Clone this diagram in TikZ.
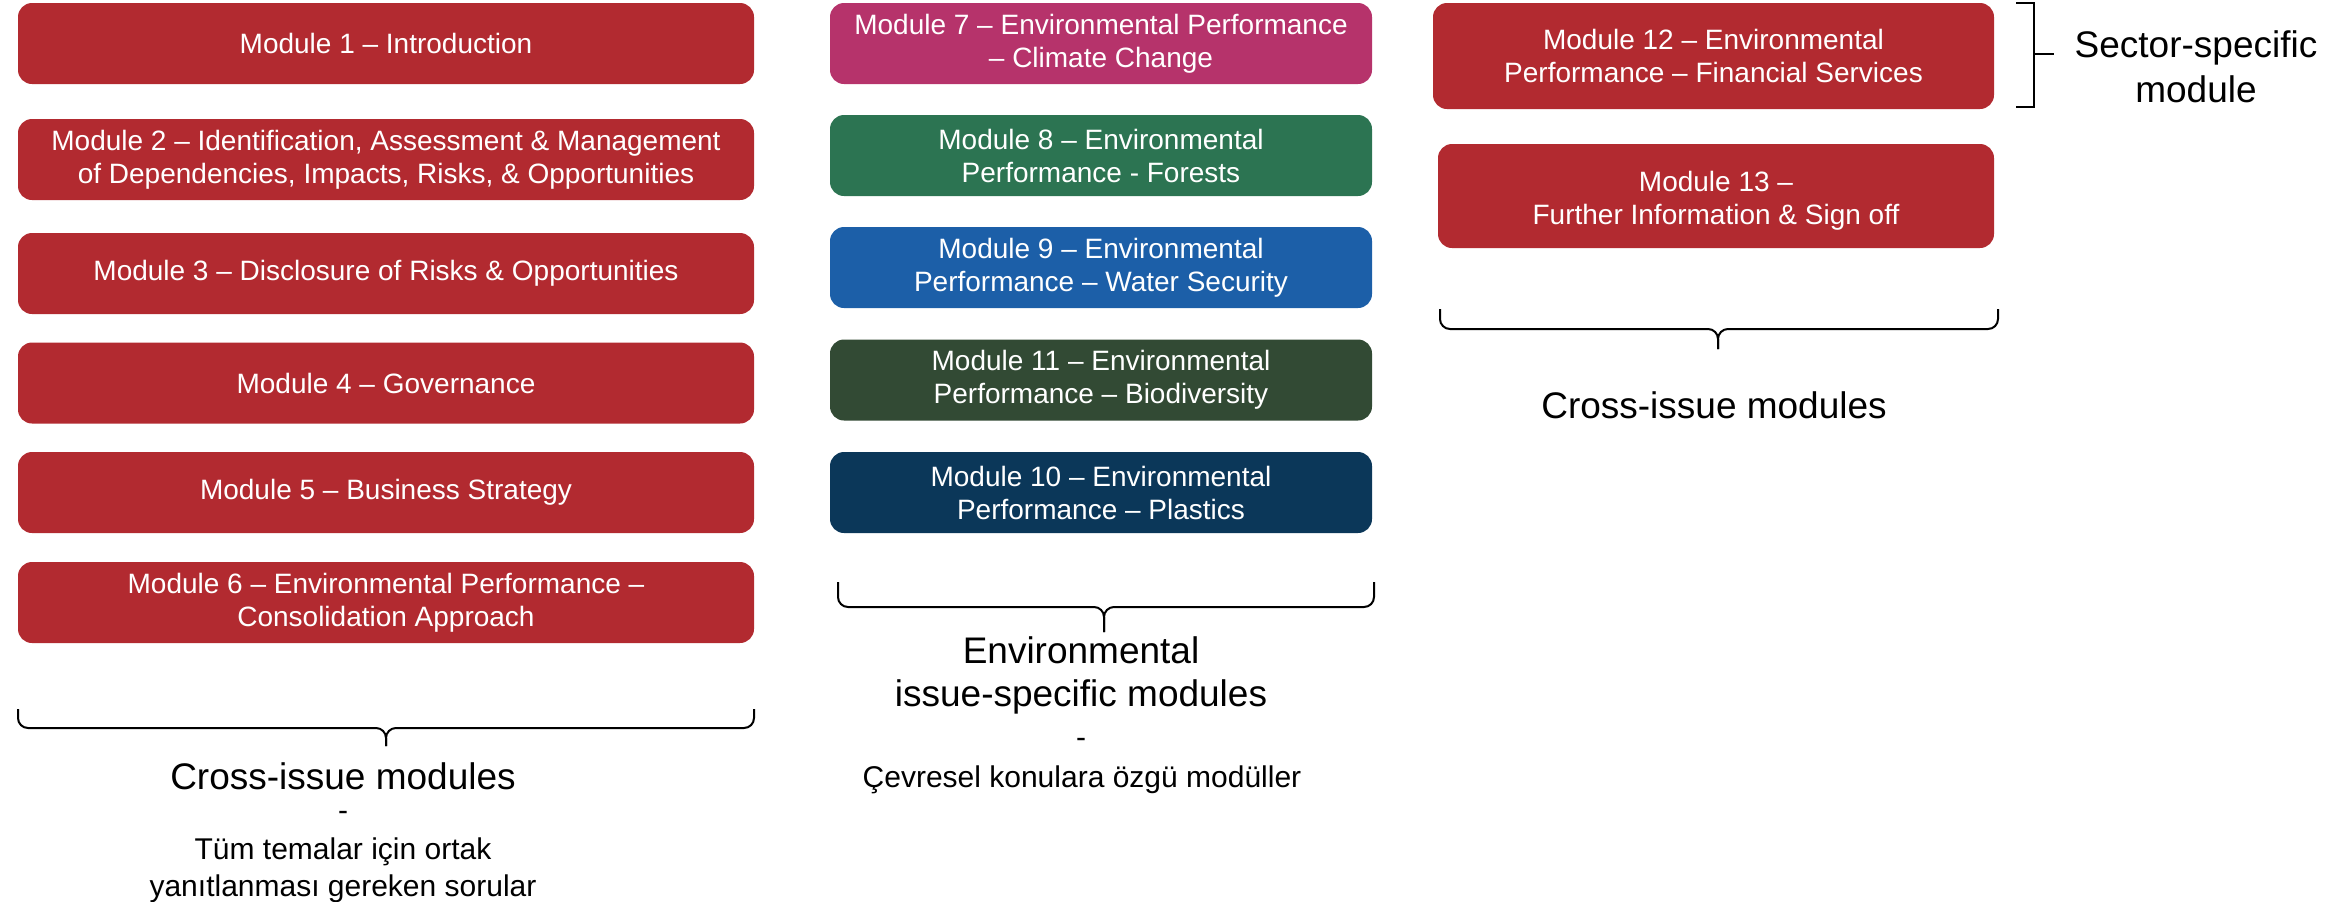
\documentclass[tikz,border=0pt]{standalone}
\usepackage{fontspec}
\setmainfont{Liberation Sans}

\definecolor{modred}{HTML}{B22A30}
\definecolor{modpink}{HTML}{B6336B}
\definecolor{modgreen}{HTML}{2C7452}
\definecolor{modblue}{HTML}{1C5FA8}
\definecolor{moddkgreen}{HTML}{324A34}
\definecolor{modnavy}{HTML}{0B3759}

\tikzset{
  modbox/.style={rounded corners=7pt, fill=#1, text=white, align=center,
    inner sep=0pt, font=\fontsize{14}{16.5}\selectfont},
  leftbox/.style={modbox=modred, minimum width=368pt, minimum height=40.5pt},
  midbox/.style={modbox=#1, minimum width=271pt, minimum height=40.5pt},
  headlabel/.style={align=center, font=\fontsize{18.5}{22.5}\selectfont},
  sublabel/.style={align=center, font=\fontsize{15}{18.5}\selectfont},
  groupbrace/.style={line width=1pt, rounded corners=5pt}
}

\begin{document}
\begin{tikzpicture}[x=0.5pt,y=-0.5pt]
\useasboundingbox (0,0) rectangle (2346,901);
% cross-issue modules
\node[leftbox] (m1) at (386,43.5)  {Module 1 – Introduction};
\node[leftbox] (m2) at (386,159.5) {Module 2 – Identification, Assessment \& Management\\of Dependencies, Impacts, Risks, \& Opportunities};
\node[leftbox] (m3) at (386,273.5) {Module 3 – Disclosure of Risks \& Opportunities};
\node[leftbox] (m4) at (386,383)   {Module 4 – Governance};
\node[leftbox] (m5) at (386,492.5) {Module 5 – Business Strategy};
\node[leftbox] (m6) at (386,602.5) {Module 6 – Environmental Performance –\\Consolidation Approach};
% environmental issue-specific modules
\node[midbox=modpink]    (m7)  at (1101,43.5)  {Module 7 – Environmental Performance\\– Climate Change};
\node[midbox=modgreen]   (m8)  at (1101,155.5) {Module 8 – Environmental\\Performance - Forests};
\node[midbox=modblue]    (m9)  at (1101,267.5) {Module 9 – Environmental\\Performance – Water Security};
\node[midbox=moddkgreen] (m11) at (1101,380)   {Module 11 – Environmental\\Performance – Biodiversity};
\node[midbox=modnavy]    (m10) at (1101,492.5) {Module 10 – Environmental\\Performance – Plastics};
% sector-specific and closing modules
\node[modbox=modred, minimum width=280.5pt, minimum height=53pt] (m12) at (1713.5,56)
  {Module 12 – Environmental\\Performance – Financial Services};
\node[modbox=modred, minimum width=278pt, minimum height=52pt] (m13) at (1716,196)
  {\rule{0pt}{15pt}Module 13 –\\Further Information \& Sign off};

% braces
\coordinate (lbA) at (18,709);
\coordinate (lbB) at (754,709);
\coordinate (lbM) at (386,728);
\coordinate (lbT) at (386,746);
\draw[groupbrace] (lbA) |- (lbM) -- (lbT);
\draw[groupbrace] (lbB) |- (lbM) -- (lbT);

\coordinate (mbA) at (838,582);
\coordinate (mbB) at (1374,582);
\coordinate (mbM) at (1104,607);
\coordinate (mbT) at (1104,632);
\draw[groupbrace] (mbA) |- (mbM) -- (mbT);
\draw[groupbrace] (mbB) |- (mbM) -- (mbT);

\coordinate (rbA) at (1440,309);
\coordinate (rbB) at (1998,309);
\coordinate (rbM) at (1718,329);
\coordinate (rbT) at (1718,349);
\draw[groupbrace] (rbA) |- (rbM) -- (rbT);
\draw[groupbrace] (rbB) |- (rbM) -- (rbT);

% sector bracket
\coordinate (sbT) at (2016,3);
\coordinate (sbB) at (2016,107);
\coordinate (sbM) at (2034,54);
\draw[line width=1pt] (sbT) -- (2034,3) -- (2034,107) -- (sbB);
\draw[line width=1pt] (sbM) -- (2054,54);

% labels
\node[headlabel] (crossL) at (343,776) {Cross-issue modules};
\node[sublabel] (dashL) at (343,816) {-};
\node[sublabel] (trL) at (343,870) {Tüm temalar için ortak\\yanıtlanması gereken sorular};

\node[headlabel, font=\fontsize{18.5}{21.5}\selectfont] (envL) at (1081,675) {Environmental\\issue-specific modules};
\node[sublabel] (dashM) at (1081,743) {-};
\node[sublabel] (trM) at (1082,780) {Çevresel konulara özgü modüller};

\node[headlabel] (crossR) at (1714,405) {Cross-issue modules};
\node[headlabel] (sectorL) at (2196,67) {Sector-specific\\module};
\end{tikzpicture}
\end{document}
